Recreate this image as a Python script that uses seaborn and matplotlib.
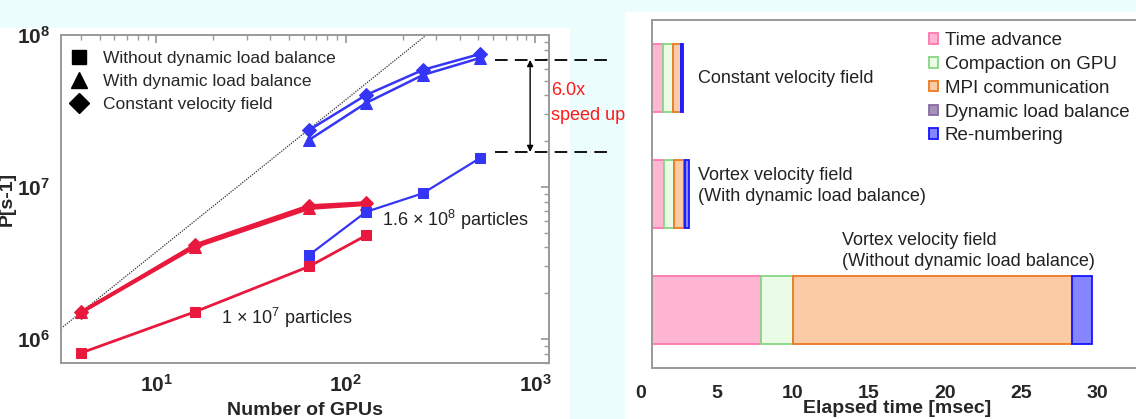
import matplotlib
matplotlib.use('Agg')
import numpy as np
import pandas as pd
import matplotlib.pyplot as plt
import seaborn as sns
from matplotlib.lines import Line2D
from matplotlib.patches import Rectangle
from matplotlib.transforms import ScaledTranslation
from matplotlib.ticker import LogLocator, FuncFormatter, NullFormatter

# --- scaling data (left panel) ---
gpus_small = [4, 16, 64, 128]
gpus_large = [64, 128, 256, 512]

small_without = [8.1e5, 1.51e6, 3.0e6, 4.8e6]
small_with = [1.5e6, 4.05e6, 7.25e6, 7.7e6]
small_const = [1.5e6, 4.15e6, 7.5e6, 7.85e6]

large_without = [3.57e6, 6.86e6, 9.1e6, 1.55e7]
large_with = [2.04e7, 3.57e7, 5.46e7, 7.06e7]
large_const = [2.37e7, 4.03e7, 5.9e7, 7.5e7]

speedup_levels = [6.85e7, 1.7e7]

# --- elapsed time breakdown (right panel) ---
cases = ['Constant velocity field',
         'Vortex velocity field\n(With dynamic load balance)',
         'Vortex velocity field\n(Without dynamic load balance)']
parts = ['Time advance', 'Compaction on GPU', 'MPI communication',
         'Dynamic load balance', 'Re-numbering']
time_advance = [0.72, 0.79, 7.2]
compaction = [0.66, 0.66, 2.05]
mpi_comm = [0.53, 0.66, 18.4]
load_balance = [0.0, 0.05, 0.0]
renumbering = [0.13, 0.28, 1.3]
time_ticks = [0, 5, 10, 15, 20, 25, 30]

RED = '#E8193C'
BLUE = '#3535F5'
part_fill = ['#FFB6D3', '#EAFCE6', '#FBCBA6', '#A393B5', '#8585FF']
part_edge = ['#FF77AE', '#88D683', '#EE7A22', '#8a6aa8', '#1515FF']

sns.set_theme(style='white')
plt.rcParams['font.family'] = ['Liberation Sans', 'DejaVu Sans']
plt.rcParams['mathtext.fontset'] = 'custom'
plt.rcParams['mathtext.rm'] = 'Liberation Sans'
plt.rcParams['mathtext.bf'] = 'Liberation Sans:bold'

fig = plt.figure(figsize=(11.36, 4.19), dpi=100)
fig.patch.set_facecolor('#EBFDFD')
fig.add_artist(Rectangle((0, 0), 570 / 1136, 1 - 28 / 419, transform=fig.transFigure,
                         facecolor='white', edgecolor='none', zorder=-5))
fig.add_artist(Rectangle((625 / 1136, 0), 1 - 625 / 1136, 1 - 12 / 419, transform=fig.transFigure,
                         facecolor='white', edgecolor='none', zorder=-5))

# ---------------- left: strong scaling ----------------
ax = fig.add_axes([61 / 1136, 1 - 363 / 419, 488 / 1136, 328 / 419])
ax.set_xscale('log')
ax.set_yscale('log')

rows = []
for name, xs, ys in [('s_without', gpus_small, small_without), ('s_with', gpus_small, small_with),
                     ('s_const', gpus_small, small_const), ('l_without', gpus_large, large_without),
                     ('l_with', gpus_large, large_with), ('l_const', gpus_large, large_const)]:
    for x, y in zip(xs, ys):
        rows.append({'series': name, 'gpus': x, 'perf': y})
df = pd.DataFrame(rows)

style = {
    's_without': (RED, 's', 7.5, 2.0),
    's_with': (RED, '^', 9, 2.6),
    's_const': (RED, 'D', 7, 2.6),
    'l_without': (BLUE, 's', 7.5, 1.6),
    'l_with': (BLUE, '^', 9, 1.8),
    'l_const': (BLUE, 'D', 7, 1.8),
}
for name, (c, m, ms, lw) in style.items():
    sub = df[df['series'] == name]
    sns.lineplot(data=sub, x='gpus', y='perf', ax=ax, color=c, marker=m, markersize=ms,
                 markeredgecolor=c, linewidth=lw, estimator=None, sort=False, legend=False)

# ideal linear scaling from the first point
xr = np.array([3.13, 1185.0])
ax.plot(xr, small_with[0] * xr / gpus_small[0], color='#333333', lw=0.9, ls=(0, (1, 1)), zorder=1)

ax.set_xlim(3.13, 1185)
ax.set_ylim(6.95e5, 1e8)

# speed-up markers
for lvl in speedup_levels:
    ax.plot([615, 2480], [lvl, lvl], color='black', lw=1.3, ls=(0, (7, 4)), clip_on=False)
ax.annotate('', xy=(942, speedup_levels[0]), xytext=(942, speedup_levels[1]),
            arrowprops=dict(arrowstyle='<|-|>', color='black', lw=1.0,
                            shrinkA=0, shrinkB=0, mutation_scale=9))
ax.text(1214, 3.57e7, '6.0x\nspeed up', color='#FF1A1A', fontsize=13, ha='left', va='center',
        linespacing=1.6)

ax.text(22, 1.37e6, r'1 $\times$ 10$^7$ particles', fontsize=13, color='#222222', va='center')
ax.text(155, 6.07e6, r'1.6 $\times$ 10$^8$ particles', fontsize=13, color='#222222', va='center')

handles = [Line2D([], [], color='black', marker=m, ls='none', markersize=s)
           for m, s in [('s', 10), ('^', 12), ('D', 10)]]
ax.legend(handles, ['Without dynamic load balance', 'With dynamic load balance',
                    'Constant velocity field'], loc='upper left', frameon=False, fontsize=12.5,
          handletextpad=0.4, labelspacing=0.45, borderaxespad=0.5, bbox_to_anchor=(-0.031, 1.0))

ax.xaxis.set_major_locator(LogLocator(base=10, numticks=10))
ax.xaxis.set_minor_locator(LogLocator(base=10, subs=np.arange(2, 10), numticks=10))
ax.yaxis.set_major_locator(LogLocator(base=10, numticks=10))
ax.yaxis.set_minor_locator(LogLocator(base=10, subs=np.arange(2, 10), numticks=10))
fmt = FuncFormatter(lambda v, p: r'$\mathbf{10^{%d}}$' % round(np.log10(v)))
ax.xaxis.set_major_formatter(fmt)
ax.yaxis.set_major_formatter(fmt)
ax.xaxis.set_minor_formatter(NullFormatter())
ax.yaxis.set_minor_formatter(NullFormatter())
ax.tick_params(which='both', direction='in', top=True, right=True, color='#999999')
ax.tick_params(which='major', length=6, labelsize=15, pad=8)
ax.tick_params(which='minor', length=3.5)
for sp in ax.spines.values():
    sp.set_color('#999999')
    sp.set_linewidth(1.4)
ax.set_xlabel('Number of GPUs', fontsize=14, fontweight='bold', labelpad=4)
ax.set_ylabel('P[s-1]', fontsize=14, fontweight='bold')
ax.yaxis.set_label_coords(-0.092, 0.5)

# ---------------- right: elapsed time ----------------
bx = fig.add_axes([652 / 1136, 1 - 368 / 419, 490 / 1136, 348 / 419])
segs = [time_advance, compaction, mpi_comm, load_balance, renumbering]
ypos = np.arange(len(cases))
left = np.zeros(len(cases))
for vals, lab, fc, ec in zip(segs, parts, part_fill, part_edge):
    vals = np.array(vals)
    bx.barh(ypos, vals, left=left, height=0.58, color=fc, edgecolor=ec, linewidth=1.3, label=lab)
    left += vals

bx.set_ylim(2.5, -0.5)
bx.set_xlim(0, 490 / 15.2)
bx.set_yticks([])
bx.set_xticks(time_ticks)
bx.set_xticklabels([str(t) for t in time_ticks], fontweight='bold')
bx.tick_params(axis='x', length=0, labelsize=14, pad=12)
# the reference prints its time labels a little left of the bar origin
shift = ScaledTranslation(-11 / 100, 0, fig.dpi_scale_trans)
for lbl in bx.get_xticklabels():
    lbl.set_transform(lbl.get_transform() + shift)
bx.spines['right'].set_visible(False)
for k in ['left', 'top', 'bottom']:
    bx.spines[k].set_color('#999999')
    bx.spines[k].set_linewidth(1.4)
bx.set_xlabel('Elapsed time [msec]', fontsize=14, fontweight='bold', labelpad=-1)

bx.text(3.0, 0.0, cases[0], fontsize=13, color='#222222', va='center', ha='left')
bx.text(3.0, 0.93, cases[1], fontsize=13, color='#222222', va='center', ha='left', linespacing=1.3)
bx.text(12.5, 1.49, cases[2], fontsize=13, color='#222222', va='center', ha='left', linespacing=1.3)

bx.legend(loc='upper left', bbox_to_anchor=(0.542, 0.997), frameon=False, fontsize=13.5,
          handlelength=0.5, handleheight=0.5, handletextpad=0.35, labelspacing=0.36,
          borderaxespad=0.2, labelcolor='#222222')

fig.savefig('out.png', dpi=100, facecolor=fig.get_facecolor())
